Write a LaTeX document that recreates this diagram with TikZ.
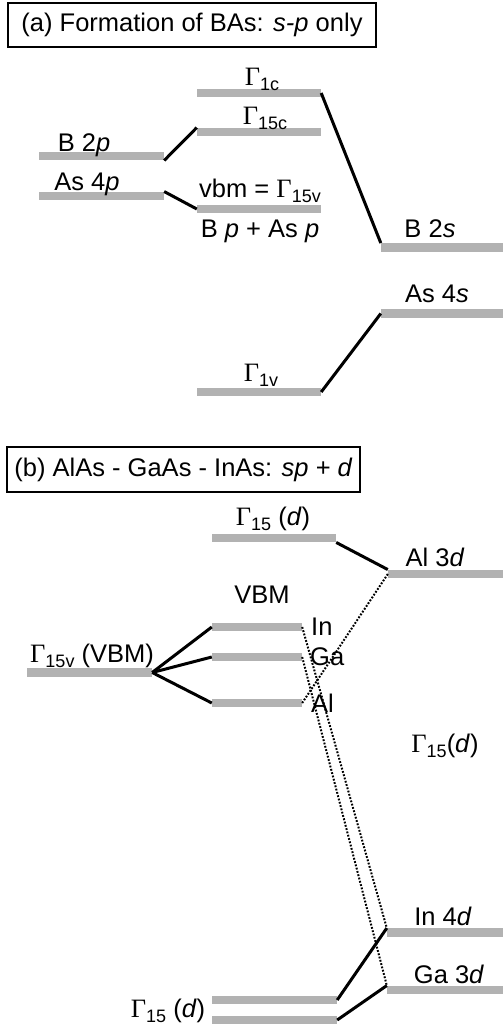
\documentclass[tikz,border=0pt]{standalone}
\usepackage{fontspec}
\setmainfont{Liberation Sans}
\newfontfamily\serifG{Liberation Serif}
\newcommand{\fs}{\fontsize{25.5}{30}\selectfont}
\newcommand{\G}[1]{{\serifG\fontsize{26.5}{30}\selectfont Γ}\raisebox{-0.22em}{\fontsize{18}{18}\selectfont #1}}
\definecolor{barc}{RGB}{178,178,178}
\begin{document}
\begin{tikzpicture}[x=1pt,y=-1pt,
  bar/.style={fill=barc, inner sep=0pt, minimum height=8.5pt, draw=none},
  conn/.style={line width=3pt},
  dotc/.style={line width=2pt, dash pattern=on 1.8pt off 1.6pt},
  lbl/.style={font=\fs, inner sep=0pt, anchor=base},
  lblw/.style={font=\fs, inner sep=0pt, anchor=base west},
  ttl/.style={draw, line width=1.8pt, font=\fs, inner sep=0pt}]
\useasboundingbox (0,0) rectangle (503,1026);

% titles
\node[ttl, minimum width=368pt, minimum height=44pt] (ta) at (192,25) {(a) Formation of BAs: \textit{s-p} only};
\node[ttl, minimum width=353pt, minimum height=45pt] (tb) at (183.5,469.5) {(b) AlAs - GaAs - InAs: \textit{sp} + \textit{d}};

% ---- part (a) bars
\node[bar, minimum width=124pt] (g1c)  at (259,93) {};
\node[bar, minimum width=124pt] (g15c) at (259,132) {};
\node[bar, minimum width=125pt] (b2p)  at (101.5,156) {};
\node[bar, minimum width=125pt] (as4p) at (101.5,196) {};
\node[bar, minimum width=124pt] (vbm)  at (259,209) {};
\node[bar, minimum width=122pt] (b2s)  at (442,247.5) {};
\node[bar, minimum width=122pt] (as4s) at (442,313.5) {};
\node[bar, minimum width=124pt] (g1v)  at (259,392) {};

\draw[conn] (b2p.south east) -- (g15c.north west);
\draw[conn] (as4p.north east) -- (vbm.west);
\draw[conn] (g1c.east) -- (b2s.north west);
\draw[conn] (g1v.east) -- (as4s.west);

\node[lbl] (lg1c)  at (262,85)  {\G{1c}};
\node[lbl] (lg15c) at (265,124) {\G{15c}};
\node[lbl] (lb2p)  at (84,151)  {B 2\textit{p}};
\node[lbl] (las4p) at (87,190)  {As 4\textit{p}};
\node[lbl] (lvbm)  at (260,197) {vbm = \G{15v}};
\node[lbl] (lbpas) at (260,237) {B \textit{p} + As \textit{p}};
\node[lbl] (lb2s)  at (430,237) {B 2\textit{s}};
\node[lbl] (las4s) at (437,302) {As 4\textit{s}};
\node[lbl] (lg1v)  at (261,381) {\G{1v}};

% ---- part (b) bars
\node[bar, minimum width=124pt] (g15dt) at (274,538) {};
\node[bar, minimum width=115pt] (al3d)  at (445.5,574) {};
\node[bar, minimum width=90pt]  (inb)   at (257,627) {};
\node[bar, minimum width=90pt]  (gab)   at (257,657) {};
\node[bar, minimum width=90pt]  (alb)   at (257,703) {};
\node[bar, minimum width=125pt] (g15v)  at (89.5,672.5) {};
\node[bar, minimum width=116pt] (in4d)  at (445,932.5) {};
\node[bar, minimum width=116pt] (ga3d)  at (445,990) {};
\node[bar, minimum width=125pt] (bb1)   at (274.5,1000) {};
\node[bar, minimum width=125pt] (bb2)   at (274.5,1020) {};

\draw[conn] (g15dt.south east) -- (al3d.north west);
\draw[conn] (g15v.east) -- (inb.west);
\draw[conn] (g15v.east) -- (gab.west);
\draw[conn] (g15v.east) -- (alb.west);
\draw[dotc] (alb.east) -- (al3d.west);
\draw[dotc] (inb.east) -- (in4d.north west);
\draw[dotc] (gab.east) -- (ga3d.north west);
\draw[conn] (bb1.east) -- (in4d.north west);
\draw[conn] (bb2.east) -- (ga3d.north west);

\node[lbl] (lg15dt) at (273,525) {\G{15} (\textit{d})};
\node[lbl] (lal3d)  at (435,566) {Al 3\textit{d}};
\node[lbl] (lvbmb)  at (262,603) {VBM};
\node[lbl] (lg15v)  at (92,662)  {\G{15v} (VBM)};
\node[lblw] (lin)   at (311,635) {In};
\node[lblw] (lga)   at (310,665) {Ga};
\node[lblw] (lal)   at (311,712) {Al};
\node[lbl] (lg15dm) at (445,752) {\G{15}(\textit{d})};
\node[lbl] (lin4d)  at (443,925) {In 4\textit{d}};
\node[lbl] (lga3d)  at (449,983) {Ga 3\textit{d}};
\node[lbl] (lg15db) at (168,1017) {\G{15} (\textit{d})};
\end{tikzpicture}
\end{document}
